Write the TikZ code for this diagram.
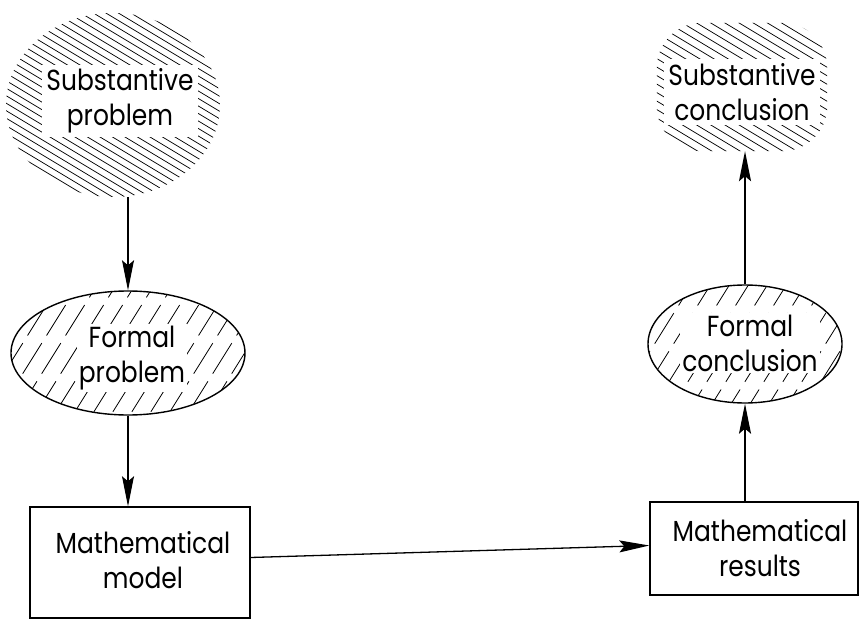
\documentclass[tikz,border=0pt]{standalone}
\usepackage{fontspec}
\newfontfamily\diagfont[FakeStretch=0.86]{Poppins}
\usetikzlibrary{shapes.geometric,arrows.meta}
\begin{document}
\begin{tikzpicture}[x=1pt,y=-1pt,
  lbl/.style={font=\diagfont\fontsize{29}{35}\selectfont, align=center, fill=white, inner sep=2pt},
  bloblbl/.style={lbl, inner sep=4pt},
  boxnode/.style={draw, line width=1.4pt, inner sep=0pt},
  ovalnode/.style={ellipse, draw, line width=1.4pt, inner sep=0pt},
  blobnode/.style={inner sep=0pt},
  hatchdense/.style={line width=0.75pt},
  hatchsparse/.style={line width=0.8pt, dash pattern=on 36pt off 9pt},
  conn/.style={line width=1.3pt, -{Stealth[length=30pt,width=12pt,inset=5pt]}}
]
\useasboundingbox (0,0) rectangle (861,620);

% Substantive problem (hatched blob)
\node[blobnode, ellipse, minimum width=214pt, minimum height=184pt] (spb) at (113,105) {};
\begin{scope}
  \clip (113,105) ellipse [x radius=107pt, y radius=92pt];
  \foreach \c in {-160,-152.5,...,210} \draw[hatchdense] (-20,\c) -- ++(260,156);
\end{scope}
\node[bloblbl] (spt) at (120,101) {Substantive\\problem};

% Substantive conclusion (hatched blob)
\node[blobnode, rectangle, minimum width=170pt, minimum height=128pt] (scb) at (742,87) {};
\begin{scope}
  \clip[rounded corners=45pt] (scb.south west) rectangle (scb.north east);
  \foreach \c in {-130,-121.5,...,160} \draw[hatchdense] (640,\c) -- ++(210,126);
\end{scope}
\node[bloblbl] (sct) at (742,92) {Substantive\\conclusion};

% Formal problem
\begin{scope}
  \clip (128,353) ellipse [x radius=117pt, y radius=62pt];
  \foreach \c in {-120,-101,...,260} \draw[hatchsparse] (\c,450) -- ++(120,-192);
\end{scope}
\node[ovalnode, minimum width=234pt, minimum height=124pt] (fp) at (128,353) {};
\node[lbl] (fpt) at (132,358) {Formal\\problem};

% Formal conclusion
\begin{scope}
  \clip (745,344) ellipse [x radius=97pt, y radius=59pt];
  \foreach \c in {550,569,...,860} \draw[hatchsparse] (\c,420) -- ++(100,-160);
\end{scope}
\node[ovalnode, minimum width=194pt, minimum height=118pt] (fc) at (745,344) {};
\node[lbl] (fct) at (750,343) {Formal\\conclusion};

% Boxes
\node[boxnode, minimum width=220pt, minimum height=111pt] (mm) at (140,562.5) {};
\node[lbl] (mmt) at (143,560) {Mathematical\\model};
\node[boxnode, minimum width=208pt, minimum height=93pt] (mr) at (754,548.5) {};
\node[lbl] (mrt) at (760,548) {Mathematical\\results};

% Connectors
\draw[conn] (spb.south -| fp.north) -- (fp.north);
\draw[conn] (fp.south) -- (fp.south |- mm.north);
\draw[conn] ([yshift=5pt]mm.east) -- ([yshift=3pt]mr.west);
\draw[conn] (mr.north -| fc.south) -- (fc.south);
\draw[conn] (fc.north) -- (fc.north |- scb.south);
\end{tikzpicture}
\end{document}
